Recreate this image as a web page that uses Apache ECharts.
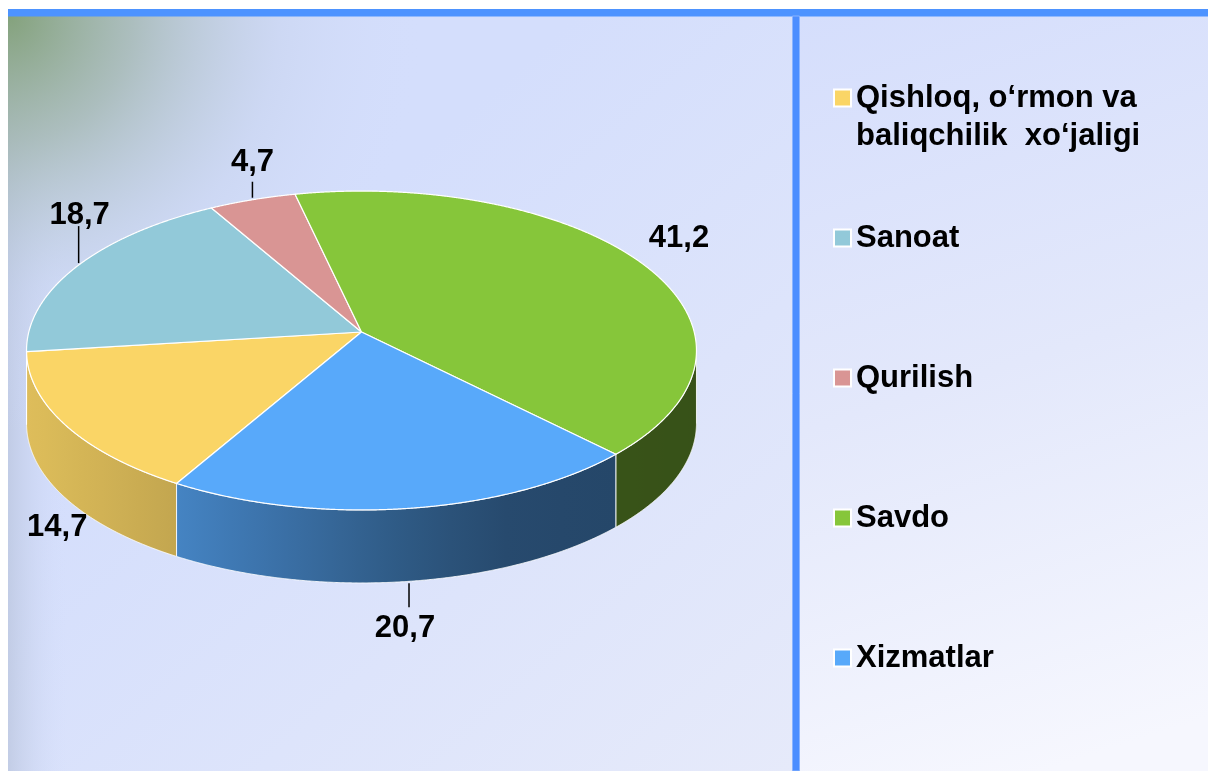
<!DOCTYPE html>
<html>
<head>
<meta charset="utf-8">
<script src="https://cdn.jsdelivr.net/npm/echarts@6/dist/echarts.min.js"></script>
<style>
  html, body { margin: 0; padding: 0; background: #ffffff; }
  #chart { width: 1208px; height: 771px; }
</style>
</head>
<body>
<div id="chart"></div>
<script>
// Sector shares, per cent
const categories = ['Qishloq, o‘rmon va\nbaliqchilik  xo‘jaligi', 'Sanoat', 'Qurilish', 'Savdo', 'Xizmatlar'];
const shares = [14.7, 18.7, 4.7, 41.2, 20.7];
const sliceColors = ['#FAD566', '#92C9D9', '#D99594', '#86C63A', '#58A9FA'];

// Label placement relative to the slice rim: [dx, dy, leader length]
const labelPlacement = [[-8, 30, 0], [1, -50, 37], [0, -37, 16], [41, -22, 0], [-4, 47, 24]];

// Cumulative start of each slice on the angle axis
const starts = shares.reduce((acc, v, i) => { acc.push(i ? acc[i - 1] + shares[i - 1] : 0); return acc; }, []);

const FONT = '"Liberation Sans", Arial, sans-serif';

// Tilted-disc projection (perspective) of the polar circle
const R0 = 100;         // polar radius in px (unit circle)
const RX = 332.7;       // horizontal radius of the disc
const RY = 157.3;       // vertical radius of the disc
const K = 0.116;        // perspective strength
const DEPTH = 73;       // thickness of the disc

// Side-wall lighting across the disc (left bright, right dark)
const wallShade = [[-1.05, 0.90], [-0.56, 0.78], [0.18, 0.51], [0.42, 0.44], [0.72, 0.42], [1.05, 0.41]];
function shadeAt(t) {
  if (t <= wallShade[0][0]) return wallShade[0][1];
  for (let j = 1; j < wallShade.length; j++) {
    const a = wallShade[j - 1], b = wallShade[j];
    if (t <= b[0]) return a[1] + (b[1] - a[1]) * (t - a[0]) / (b[0] - a[0]);
  }
  return wallShade[wallShade.length - 1][1];
}
function darken(hex, f) {
  const n = parseInt(hex.slice(1), 16);
  const r = Math.round(((n >> 16) & 255) * f), g = Math.round(((n >> 8) & 255) * f), b = Math.round((n & 255) * f);
  return 'rgb(' + r + ',' + g + ',' + b + ')';
}
function fmt(v) { return v.toFixed(1).replace('.', ','); }

function renderSlice(params, api) {
  const i = params.seriesIndex;
  const start = api.value(0);
  const share = api.value(1);
  const c = api.coord([0, 0]);
  const proj = (val) => {
    const p = api.coord([1, val]);
    const u = (p[0] - c[0]) / R0, v = (p[1] - c[1]) / R0;
    const d = 1 - K * v;
    return { x: c[0] + RX * u / d, y: c[1] + RY * v / d, v: v };
  };
  const n = Math.max(8, Math.ceil(share / 0.05));
  const rim = [];
  for (let j = 0; j <= n; j++) rim.push(proj(start + share * j / n));

  const children = [];
  // visible front wall
  const front = rim.filter(p => p.v >= K);
  if (front.length >= 2) {
    const pts = front.map(p => [p.x, p.y]).concat(front.slice().reverse().map(p => [p.x, p.y + DEPTH]));
    let x0 = Infinity, x1 = -Infinity;
    front.forEach(p => { x0 = Math.min(x0, p.x); x1 = Math.max(x1, p.x); });
    const stops = [];
    for (let s = 0; s <= 8; s++) {
      const x = x0 + (x1 - x0) * s / 8;
      stops.push({ offset: s / 8, color: darken(sliceColors[i], shadeAt((x - c[0]) / RX)) });
    }
    children.push({
      type: 'polygon',
      shape: { points: pts },
      style: { fill: new echarts.graphic.LinearGradient(0, 0, 1, 0, stops), stroke: 'rgba(255,255,255,0.85)', lineWidth: 1 }
    });
  }
  // top face
  children.push({
    type: 'polygon',
    shape: { points: [[c[0], c[1]]].concat(rim.map(p => [p.x, p.y])) },
    style: { fill: sliceColors[i], stroke: '#ffffff', lineWidth: 1.2, lineJoin: 'round' }
  });
  // value label
  const m = proj(start + share / 2);
  const ax = m.x, ay = m.y + (m.v >= K ? DEPTH : 0);
  const pl = labelPlacement[i];
  if (pl[2]) {
    const sg = Math.sign(pl[1]);
    children.push({
      type: 'line',
      shape: { x1: ax, y1: ay + sg * 2, x2: ax, y2: ay + sg * (2 + pl[2]) },
      style: { stroke: '#000000', lineWidth: 1.5 }
    });
  }
  children.push({
    type: 'text',
    style: {
      text: fmt(share), x: ax + pl[0], y: ay + pl[1],
      align: 'center', verticalAlign: 'middle',
      font: 'bold 31px ' + FONT, fill: '#000000'
    }
  });
  return { type: 'group', children: children };
}

// Legend rows: first text line of each entry
const legendRowY = categories.map((_, i) => 98 + 140 * i);

const chart = echarts.init(document.getElementById('chart'), null, { renderer: 'canvas' });
chart.setOption({
  animation: false,
  backgroundColor: '#ffffff',
  polar: { center: [361.5, 332], radius: R0 },
  angleAxis: { type: 'value', min: 0, max: 100, startAngle: 240, clockwise: true, show: false },
  radiusAxis: { type: 'value', min: 0, max: 1, show: false },
  graphic: {
    elements: [
      // left panel
      {
        type: 'rect', z: 0, silent: true,
        shape: { x: 8, y: 16, width: 784, height: 755 },
        style: { fill: new echarts.graphic.LinearGradient(0.4, 0.3, 1, 1, [
          { offset: 0, color: '#D4DEFC' }, { offset: 1, color: '#E6EAFA' }]) }
      },
      {
        type: 'rect', z: 0, silent: true,
        shape: { x: 8, y: 16, width: 60, height: 755 },
        style: { fill: new echarts.graphic.LinearGradient(0, 0, 1, 0, [
          { offset: 0, color: 'rgba(185,196,220,0.7)' }, { offset: 1, color: 'rgba(212,222,252,0)' }]) }
      },
      {
        type: 'rect', z: 0, silent: true,
        shape: { x: 8, y: 16, width: 440, height: 460 },
        style: { fill: new echarts.graphic.RadialGradient(0, 0, 0.95, [
          { offset: 0, color: 'rgba(132,162,124,1)' },
          { offset: 0.3, color: 'rgba(162,182,175,0.8)' },
          { offset: 0.65, color: 'rgba(192,205,228,0.35)' },
          { offset: 1, color: 'rgba(212,222,252,0)' }]) }
      },
      // right panel
      {
        type: 'rect', z: 0, silent: true,
        shape: { x: 800, y: 16, width: 408, height: 755 },
        style: { fill: new echarts.graphic.LinearGradient(0, 0, 0.6, 1, [
          { offset: 0, color: '#D5DEFC' }, { offset: 0.5, color: '#E3E8FB' }, { offset: 1, color: '#F6F7FE' }]) }
      },
      // frame lines
      {
        type: 'rect', z: 100, silent: true,
        shape: { x: 8, y: 9, width: 1200, height: 7.5 },
        style: { fill: '#4D93FF' }
      },
      {
        type: 'rect', z: 100, silent: true,
        shape: { x: 792.5, y: 16, width: 7, height: 755 },
        style: { fill: '#4C8EFF', stroke: '#8AB4FF', lineWidth: 1 }
      }
    ]
  },
  legend: categories.map((name, i) => {
    const multi = name.indexOf('\n') >= 0;
    const lg = {
      data: [name],
      orient: 'vertical',
      left: 833,
      top: legendRowY[i] - (multi ? 57 : 19),
      padding: 0,
      icon: 'rect',
      itemWidth: 17,
      itemHeight: 17,
      itemStyle: { borderColor: '#ffffff', borderWidth: 2 },
      selectedMode: false,
      textStyle: { fontSize: 31, fontWeight: 'bold', fontFamily: FONT, color: '#000000', lineHeight: 38 }
    };
    if (multi) lg.formatter = (n) => '\n' + n;
    return lg;
  }),
  series: categories.map((name, i) => ({
    type: 'custom',
    name: name,
    coordinateSystem: 'polar',
    polarIndex: 0,
    silent: true,
    z: 2,
    itemStyle: { color: sliceColors[i] },
    data: [[starts[i], shares[i]]],
    renderItem: renderSlice
  }))
});
</script>
</body>
</html>
